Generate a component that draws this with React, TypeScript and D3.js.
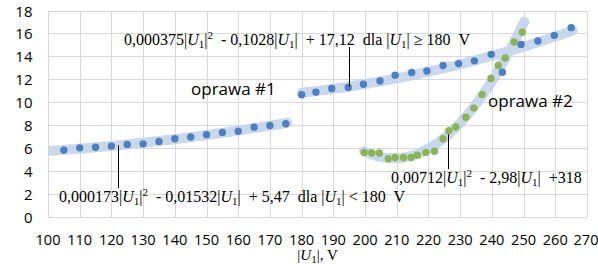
import * as d3 from "d3";
import React from "react";

// oprawa #1, |U1| < 180 V
const lowU = [105, 110, 115, 120, 125, 130, 135, 140, 145, 150, 155, 160, 165, 170, 175];
const lowP = [5.8, 6.0, 6.05, 6.15, 6.3, 6.35, 6.55, 6.8, 6.95, 7.15, 7.35, 7.45, 7.8, 7.95, 8.1];

// oprawa #1, |U1| >= 180 V
const highU = [180, 184.5, 189.5, 194.7, 199.5, 204.7, 209.5, 214.7, 219.5, 224.6, 229.5, 234.5, 239.8, 243.3, 249.2, 254.5, 259.7, 265];
const highP = [10.64, 10.87, 11.19, 11.27, 11.56, 11.85, 12.35, 12.58, 12.72, 13.2, 13.36, 13.6, 14.17, 12.6, 15.04, 15.33, 15.83, 16.5];

// oprawa #2
const lamp2U = [199.7, 202.1, 204.5, 207.3, 209.5, 212.1, 214.5, 216.5, 219.2, 221.9, 224.6, 226.4, 228.6, 231.8, 234.3, 236.9, 239.7, 242, 244.2, 247, 249.6];
const lamp2P = [5.6, 5.55, 5.55, 5.05, 5.15, 5.15, 5.15, 5.35, 5.6, 5.7, 6.8, 7.5, 7.82, 8.67, 9.47, 10.65, 12.06, 13.2, 13.85, 15.25, 16.1];

const xTicks = [100, 110, 120, 130, 140, 150, 160, 170, 180, 190, 200, 210, 220, 230, 240, 250, 260, 270];
const yTicks = [0, 2, 4, 6, 8, 10, 12, 14, 16, 18];

const W = 598;
const H = 264;
const BLUE = "#4e7fc0";
const GREEN = "#8db35a";
const BAND = "#c4d4ea";
const SERIF = "'Liberation Serif', 'Times New Roman', serif";
const SANS = "'Open Sans', 'Liberation Sans', sans-serif";
const SP = "\u00a0";

// least squares, 2nd order
function polyfit(xs: number[], ys: number[]) {
  const s = [0, 0, 0, 0, 0];
  const t = [0, 0, 0];
  xs.forEach((x, i) => {
    for (let k = 0; k < 5; k++) s[k] += x ** k;
    for (let k = 0; k < 3; k++) t[k] += ys[i] * x ** k;
  });
  const m = [
    [s[0], s[1], s[2], t[0]],
    [s[1], s[2], s[3], t[1]],
    [s[2], s[3], s[4], t[2]],
  ];
  for (let c = 0; c < 3; c++) {
    for (let r = c + 1; r < 3; r++) {
      const f = m[r][c] / m[c][c];
      for (let k = c; k < 4; k++) m[r][k] -= f * m[c][k];
    }
  }
  const a = [0, 0, 0];
  for (let r = 2; r >= 0; r--) {
    let v = m[r][3];
    for (let k = r + 1; k < 3; k++) v -= m[r][k] * a[k];
    a[r] = v / m[r][r];
  }
  return (x: number) => a[0] + a[1] * x + a[2] * x * x;
}

// |U1| with italic U and subscript 1
function U1() {
  return (
    <>
      <tspan>|</tspan>
      <tspan fontStyle="italic">U</tspan>
      <tspan fontSize="11" dy="3">1</tspan>
      <tspan dy="-3">|</tspan>
    </>
  );
}

function Sq() {
  return (
    <>
      <tspan fontSize="11" dy="-6">2</tspan>
      <tspan dy="6">{SP}</tspan>
    </>
  );
}

export default function App() {
  const x = d3.scaleLinear().domain([100, 270]).range([48, 587]);
  const y = d3.scaleLinear().domain([0, 18]).range([216.5, 10.5]);

  const fitLow = polyfit(lowU, lowP);
  const fitHigh = polyfit(highU, highP);
  const fit2 = polyfit(lamp2U, lamp2P);

  const line = (f: (u: number) => number, a: number, b: number) =>
    d3
      .line<number>()
      .x((u) => x(u))
      .y((u) => y(f(u)))(d3.range(a, b + 0.01, 0.5));

  const px = (v: number) => Math.round(v) + 0.5;

  const leader = (u: number, y1: number, y2: number) => (
    <line x1={px(x(u))} x2={px(x(u))} y1={y1} y2={y2} stroke="#000" strokeWidth={1} />
  );

  return (
    <svg width={W} height={H} style={{ position: "absolute", left: 0, top: 0, background: "#fff" }}>
      <defs>
        <clipPath id="plot">
          <rect x={x(100)} y={y(18) - 10} width={x(270) - x(100)} height={y(0) - y(18) + 10} />
        </clipPath>
      </defs>
      <g stroke="#d9d9d9" strokeWidth={1}>
        {xTicks.map((t) => (
          <line key={t} x1={px(x(t))} x2={px(x(t))} y1={px(y(18))} y2={px(y(0))} />
        ))}
        {yTicks.map((t) => (
          <line key={t} x1={px(x(100))} x2={px(x(270))} y1={px(y(t))} y2={px(y(t))} />
        ))}
      </g>
      <g fontFamily={SANS} fontSize={15} fill="#000">
        {yTicks.map((t) => (
          <text key={t} x={32.5} y={y(t) + 6} textAnchor="end">{t}</text>
        ))}
      </g>
      <g fontFamily={SANS} fontSize={14.6} fill="#000">
        {xTicks.map((t) => (
          <text key={t} x={t === 270 ? x(t) - 1 : x(t)} y={244.5} textAnchor="middle">{t}</text>
        ))}
      </g>
      <g clipPath="url(#plot)" fill="none" stroke={BAND} strokeWidth={10} strokeLinecap="round" opacity={0.9}>
        <path d={line(fitLow, 98, 175.5) ?? ""} />
        <path d={line(fitHigh, 180, 265.5) ?? ""} />
        <path d={line(fit2, 199.7, 250.3) ?? ""} />
      </g>
      <g fill={BLUE}>
        {lowU.map((u, i) => (
          <circle key={"l" + i} cx={x(u)} cy={y(lowP[i])} r={3.7} />
        ))}
        {highU.map((u, i) => (
          <circle key={"h" + i} cx={x(u)} cy={y(highP[i])} r={3.7} />
        ))}
      </g>
      <g fill={GREEN}>
        {lamp2U.map((u, i) => (
          <circle key={"g" + i} cx={x(u)} cy={y(lamp2P[i])} r={3.7} />
        ))}
      </g>
      {leader(195, 47, y(fitHigh(195)))}
      {leader(122.2, y(fitLow(122.2)), 188)}
      {leader(226.3, y(fit2(226.3)), 169)}
      <g fontFamily={SERIF} fontSize={16} fill="#000">
        <text x={124} y={45}>
          0,000375<U1 /><Sq />{SP + "- 0,1028"}<U1 />{SP + SP + "+ 17,12" + SP + SP + "dla "}<U1 />{" ≥ 180" + SP + SP + "V"}
        </text>
        <text x={59} y={201.5}>
          0,000173<U1 /><Sq />{SP + "- 0,01532"}<U1 />{SP + SP + "+ 5,47" + SP + " dla "}<U1 />{" < 180" + SP + " V"}
        </text>
        <text x={391} y={183}>
          0,00712<U1 /><Sq />{SP + "- 2,98"}<U1 />{SP + SP + "+318"}
        </text>
      </g>
      <g fontFamily={SERIF} fontSize={15} fill="#000">
        <text x={317.5} y={260} textAnchor="middle">
          <U1 />{", V"}
        </text>
      </g>
      <g fontFamily={SANS} fontSize={17} fill="#000">
        <text x={191} y={95}>oprawa #1</text>
        <text x={488} y={107}>oprawa #2</text>
      </g>
    </svg>
  );
}
